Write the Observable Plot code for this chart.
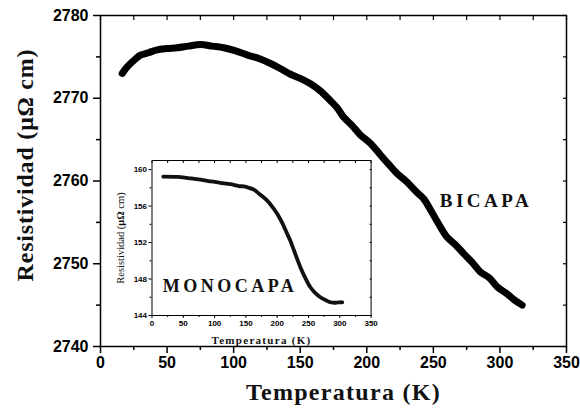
<!DOCTYPE html>
<html>
<head>
<meta charset="utf-8">
<script src="https://cdn.jsdelivr.net/npm/d3@7"></script>
<script src="https://cdn.jsdelivr.net/npm/@observablehq/plot@0.6"></script>
<style>
  html, body { margin: 0; padding: 0; background: white; }
  #wrap { position: relative; width: 580px; height: 409px; overflow: hidden; }
  #inset { position: absolute; left: 101px; top: 150px; }
  svg { overflow: visible; }
</style>
</head>
<body>
<div id="wrap"><div id="main"></div><div id="inset"></div></div>
<script>
// BICAPA (main) data: temperature (K) and resistivity (µΩ cm)
const bicapaT = [16.3, 19, 22.5, 26, 30, 36, 42.6, 50, 57.6, 66, 75, 84, 92.6, 101, 110, 119, 127.7, 135, 142.7, 150, 157.7, 165, 172.7, 178, 182.7, 189, 195, 203, 210, 216, 222.8, 230, 237.8, 243, 247.9, 254, 260.4, 266, 272.9, 279, 285.4, 292, 298, 305, 311, 316.7];
const bicapaR = [2773.0, 2773.6, 2774.2, 2774.7, 2775.2, 2775.5, 2775.85, 2776.0, 2776.1, 2776.3, 2776.5, 2776.3, 2776.1, 2775.75, 2775.25, 2774.8, 2774.2, 2773.6, 2772.9, 2772.4, 2771.75, 2770.9, 2769.7, 2768.8, 2767.7, 2766.7, 2765.6, 2764.5, 2763.2, 2762.1, 2760.9, 2759.9, 2758.6, 2757.8, 2756.5, 2754.8, 2753.2, 2752.4, 2751.2, 2750.2, 2749.0, 2748.3, 2747.2, 2746.4, 2745.6, 2745.0];

// MONOCAPA (inset) data
const monoT = [18, 40, 60, 77.5, 95, 109, 125, 138.7, 146.7, 155, 162.6, 172, 184, 192, 200, 208, 216, 221, 226.5, 237, 245, 253, 261, 269, 277, 285, 293, 301, 304];
const monoR = [159.23, 159.2, 159.05, 158.9, 158.7, 158.55, 158.4, 158.2, 158.15, 158.0, 157.8, 157.3, 156.6, 155.95, 155.15, 154.15, 152.95, 152.2, 151.2, 149.3, 148.1, 147.1, 146.45, 146.0, 145.7, 145.45, 145.4, 145.45, 145.45];

// Ticks
const mainXTicks = [0, 50, 100, 150, 200, 250, 300, 350];
const mainXMinor = [25, 75, 125, 175, 225, 275, 325];
const mainYTicks = [2740, 2750, 2760, 2770, 2780];
const mainYMinor = [2745, 2755, 2765, 2775];
const insetXTicks = [0, 50, 100, 150, 200, 250, 300, 350];
const insetXMinor = [25, 75, 125, 175, 225, 275, 325];
const insetYTicks = [144, 148, 152, 156, 160];
const insetYMinor = [146, 150, 154, 158];

// Labels
const mainXLabel = "Temperatura (K)";
const mainYLabel = "Resistividad (μΩ cm)";
const insetXLabel = "Temperatura (K)";
const insetYLabel = "Resistividad (μΩ cm)";
const mainAnnot = [{text: "BICAPA", T: 289.5, R: 2757.6}];
const insetAnnot = [{text: "MONOCAPA", T: 124.6, R: 147.2}];

const bicapa = bicapaT.map((t, i) => ({T: t, R: bicapaR[i]}));
const mono = monoT.map((t, i) => ({T: t, R: monoR[i]}));

const sans = "'Liberation Sans', Arial, sans-serif";
const serif = "'Liberation Serif', 'Times New Roman', serif";
const fmt = d => String(d);

const main = Plot.plot({
  width: 580, height: 409,
  marginLeft: 100, marginRight: 14, marginTop: 15, marginBottom: 63,
  x: {domain: [0, 350]},
  y: {domain: [2740, 2780]},
  style: {fontFamily: sans, background: "white", color: "black"},
  marks: [
    Plot.line(bicapa, {x: "T", y: "R", stroke: "black", strokeWidth: 7, curve: "catmull-rom", strokeLinecap: "round", strokeLinejoin: "round"}),
    Plot.axisX({ticks: mainXTicks, tickFormat: fmt, tickSize: 7, tickPadding: 3, label: null, fontSize: 16, fontWeight: "bold", strokeWidth: 1.5}),
    Plot.axisX({ticks: mainXMinor, tickSize: 4, text: null, label: null, strokeWidth: 1.5}),
    Plot.axisX({anchor: "top", ticks: mainXTicks.concat(mainXMinor), tickSize: -4, text: null, label: null, strokeWidth: 1.2}),
    Plot.axisY({ticks: mainYTicks, tickFormat: fmt, tickSize: 7, tickPadding: 5, label: null, fontSize: 16, fontWeight: "bold", strokeWidth: 1.5}),
    Plot.axisY({ticks: mainYMinor, tickSize: 4, text: null, label: null, strokeWidth: 1.5}),
    Plot.axisY({anchor: "right", ticks: mainYTicks.concat(mainYMinor), tickSize: -4, text: null, label: null, strokeWidth: 1.2}),
    Plot.frame({stroke: "black", strokeWidth: 1.5}),
    Plot.text(mainAnnot, {x: "T", y: "R", text: "text", fontFamily: serif, fontSize: 19, fontWeight: "bold", textAnchor: "middle", fill: "#111"}),
    Plot.text([mainXLabel], {frameAnchor: "bottom", dy: 46, dx: 10, fontFamily: serif, fontSize: 24, fontWeight: "bold", textAnchor: "middle", lineAnchor: "middle", fill: "#111"}),
    Plot.text([mainYLabel], {frameAnchor: "left", dx: -75, dy: -16, rotate: -90, fontFamily: serif, fontSize: 24, fontWeight: "bold", textAnchor: "middle", lineAnchor: "middle", fill: "#111"})
  ]
});
document.getElementById("main").appendChild(main);

const inset = Plot.plot({
  width: 280, height: 200,
  marginLeft: 50.5, marginRight: 10.4, marginTop: 10, marginBottom: 35,
  x: {domain: [0, 350]},
  y: {domain: [144, 161]},
  style: {fontFamily: sans, background: "transparent", color: "black"},
  marks: [
    Plot.frame({fill: "white", stroke: null}),
    Plot.line(mono, {x: "T", y: "R", stroke: "#111", strokeWidth: 3.8, curve: "catmull-rom", strokeLinecap: "round"}),
    Plot.axisX({ticks: insetXTicks, tickFormat: fmt, tickSize: 3, tickPadding: 2, label: null, fontSize: 8, fontWeight: "bold"}),
    Plot.axisX({ticks: insetXMinor, tickSize: 2, text: null, label: null}),
    Plot.axisX({anchor: "top", ticks: insetXTicks.concat(insetXMinor), tickSize: -2, text: null, label: null}),
    Plot.axisY({ticks: insetYTicks, tickFormat: fmt, tickSize: 3, tickPadding: 2, label: null, fontSize: 8, fontWeight: "bold"}),
    Plot.axisY({ticks: insetYMinor, tickSize: 2, text: null, label: null}),
    Plot.axisY({anchor: "right", ticks: insetYTicks.concat(insetYMinor), tickSize: -2, text: null, label: null}),
    Plot.frame({stroke: "black", strokeWidth: 1}),
    Plot.text(insetAnnot, {x: "T", y: "R", text: "text", fontFamily: serif, fontSize: 18, fontWeight: "bold", textAnchor: "middle", fill: "#111"}),
    Plot.text([insetXLabel], {frameAnchor: "bottom", dy: 25, fontFamily: serif, fontSize: 11, fontWeight: "bold", textAnchor: "middle", lineAnchor: "middle", fill: "#111"}),
    Plot.text([insetYLabel], {frameAnchor: "left", dx: -31, rotate: -90, fontFamily: serif, fontSize: 10.5, textAnchor: "middle", lineAnchor: "middle", fill: "#111"})
  ]
});
document.getElementById("inset").appendChild(inset);

// letter spacing (not a Plot text option) applied to the rendered text
const spacing = new Map([["BICAPA", "3.5px"], ["MONOCAPA", "3.5px"], [mainXLabel, "1.3px"], [mainYLabel, "0.8px"]]);
[main, inset].forEach(svg => {
  d3.select(svg).selectAll("text").each(function() {
    const t = this.textContent;
    if (svg === inset && t === insetXLabel) { this.style.letterSpacing = "1.3px"; return; }
    if (svg === inset && t === insetYLabel) {
      // bold unit symbols, as in the reference
      const sel = d3.select(this);
      sel.text(null);
      sel.append("tspan").text("Resistividad (");
      sel.append("tspan").attr("font-weight", "bold").text("μΩ");
      sel.append("tspan").text(" cm)");
      return;
    }
    if (spacing.has(t)) this.style.letterSpacing = spacing.get(t);
  });
});
</script>
</body>
</html>
